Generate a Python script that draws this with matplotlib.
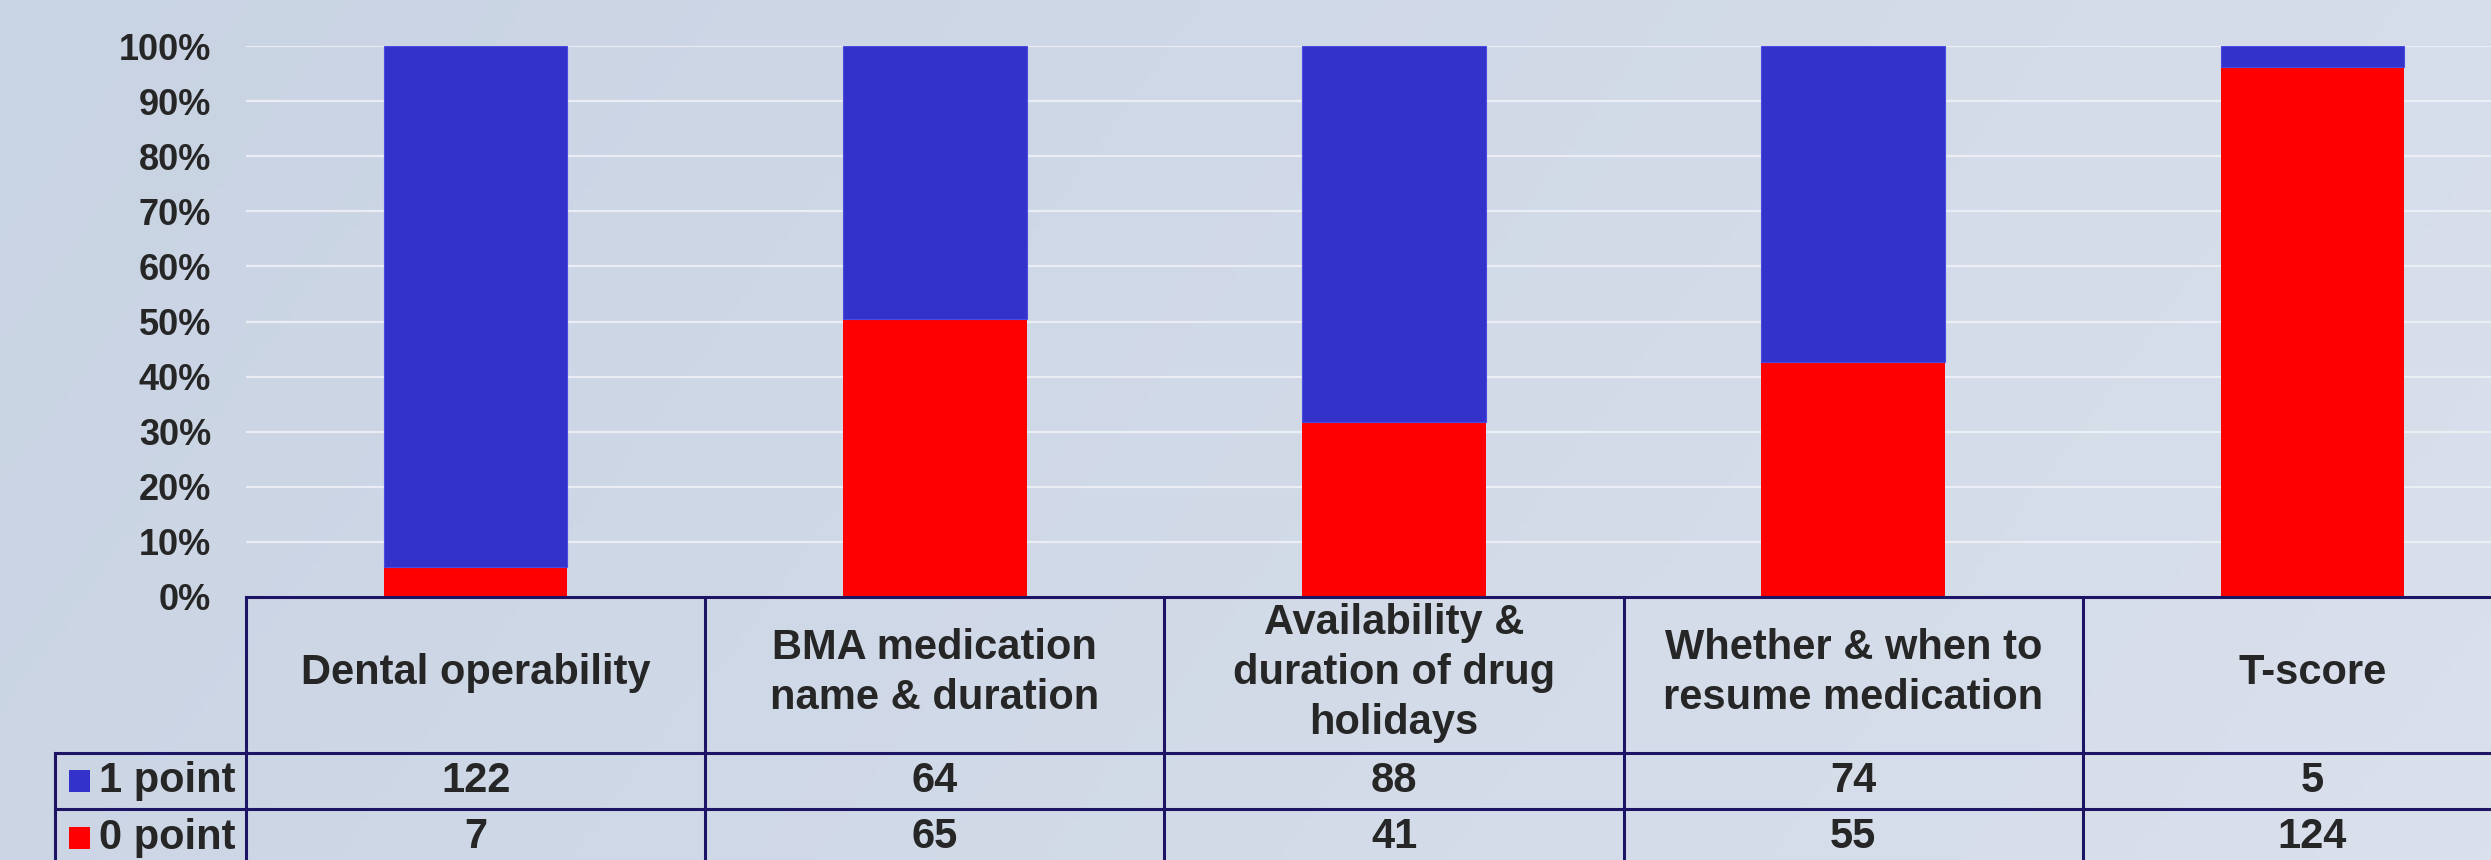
import numpy as np
import matplotlib
matplotlib.use("Agg")
import matplotlib.pyplot as plt
from matplotlib.patches import Rectangle

# ---- data ----
categories = ["Dental operability", "BMA medication\nname & duration",
              "Availability &\nduration of drug\nholidays",
              "Whether & when to\nresume medication", "T-score"]
one_point = [122, 64, 88, 74, 5]
zero_point = [7, 65, 41, 55, 124]
series_names = ["1 point", "0 point"]
yticks = [0, 10, 20, 30, 40, 50, 60, 70, 80, 90, 100]

BLUE = "#3333CC"
RED = "#FF0000"
TXT = "#262626"
LINE = "#1E1466"

plt.rcParams['font.family'] = ['Liberation Sans', 'DejaVu Sans']
plt.rcParams['font.weight'] = 'bold'

W, H = 2491, 860
fig = plt.figure(figsize=(W / 100, H / 100), dpi=100)

# background gradient
bg = fig.add_axes([0, 0, 1, 1], zorder=-10)
gx = np.linspace(0, 1, 256)
gy = np.linspace(0, 1, 64)
X, Y = np.meshgrid(gx, gy)
t = np.clip(0.8 * X + 0.2 * Y, 0, 1)
c0 = np.array([200, 211, 227]) / 255
c1 = np.array([218, 224, 236]) / 255
img = c0[None, None, :] * (1 - t[..., None]) + c1[None, None, :] * t[..., None]
bg.imshow(img, aspect='auto', extent=[0, 1, 0, 1], origin='upper')
bg.set_axis_off()

# main axes (extends past the right edge like the reference)
left_px, right_px, top_px, zero_px = 246, 2542, 46, 597
ax = fig.add_axes([left_px / W, (H - zero_px) / H,
                   (right_px - left_px) / W, (zero_px - top_px) / H])
ax.set_facecolor('none')

n = len(categories)
x = np.arange(n)
tot = np.array(one_point) + np.array(zero_point)
p0 = np.array(zero_point) / tot * 100
p1 = np.array(one_point) / tot * 100

ax.bar(x, p0, width=0.4, color=RED, zorder=3)
ax.bar(x, p1, width=0.4, bottom=p0, color=BLUE, edgecolor="#4B4BE0",
       linewidth=0.8, zorder=3)

ax.set_xlim(-0.5, n - 0.5)
ax.set_ylim(0, 100)
ax.set_yticks(yticks)
ax.set_yticklabels([f"{v}%" for v in yticks], fontsize=26, color=TXT,
                   fontweight='bold')
ax.tick_params(axis='y', length=0, pad=25)
ax.set_xticks([])
for s in ax.spines.values():
    s.set_visible(False)
ax.yaxis.grid(True, color="#EEF1F6", linewidth=1.6, alpha=0.9, zorder=0)
ax.set_axisbelow(True)

# ---- table below the axes ----
tr = ax.get_xaxis_transform()  # x in data, y in axes fraction
ph = zero_px - top_px


def yf(px):
    return -(px - zero_px) / ph


hdr_bot = yf(753)
r1_bot = yf(809)
r2_bot = yf(866)
unit = (right_px - left_px) / n
leg_left = -0.5 - (left_px - 55) / unit

lw = 2.2
ax.plot([-0.5, n - 0.5], [0, 0], color=LINE, lw=lw, transform=tr, clip_on=False, zorder=5)
ax.plot([leg_left, n - 0.5], [hdr_bot, hdr_bot], color=LINE, lw=lw, transform=tr, clip_on=False)
ax.plot([leg_left, n - 0.5], [r1_bot, r1_bot], color=LINE, lw=lw, transform=tr, clip_on=False)
for b in np.arange(n + 1) - 0.5:
    ax.plot([b, b], [0, r2_bot], color=LINE, lw=lw, transform=tr, clip_on=False)
ax.plot([leg_left, leg_left], [hdr_bot, r2_bot], color=LINE, lw=lw, transform=tr, clip_on=False)

FS = 30
hdr_c = (0 + hdr_bot) / 2 + 2 / ph
r1_c = (hdr_bot + r1_bot) / 2
r2_c = (r1_bot + r2_bot) / 2
for i, cat in enumerate(categories):
    ax.text(i, hdr_c, cat, transform=tr, ha='center', va='center', fontsize=FS,
            fontweight='bold', color=TXT, linespacing=1.32)
    ax.text(i, r1_c, str(one_point[i]), transform=tr, ha='center', va='center',
            fontsize=FS, fontweight='bold', color=TXT)
    ax.text(i, r2_c, str(zero_point[i]), transform=tr, ha='center', va='center',
            fontsize=FS, fontweight='bold', color=TXT)

sq_x0 = -0.5 - (left_px - 69) / unit
sq_w = 21 / unit
sq_h = 22 / ph
txt_x = -0.5 - (left_px - 99) / unit
for name, col, yc in [(series_names[0], BLUE, r1_c), (series_names[1], RED, r2_c)]:
    ax.add_patch(Rectangle((sq_x0, yc - sq_h / 2), sq_w, sq_h, transform=tr,
                           facecolor=col, edgecolor='none', clip_on=False))
    ax.text(txt_x, yc, name, transform=tr, ha='left', va='center', fontsize=FS,
            fontweight='bold', color=TXT)

fig.savefig("out.png", dpi=100)
